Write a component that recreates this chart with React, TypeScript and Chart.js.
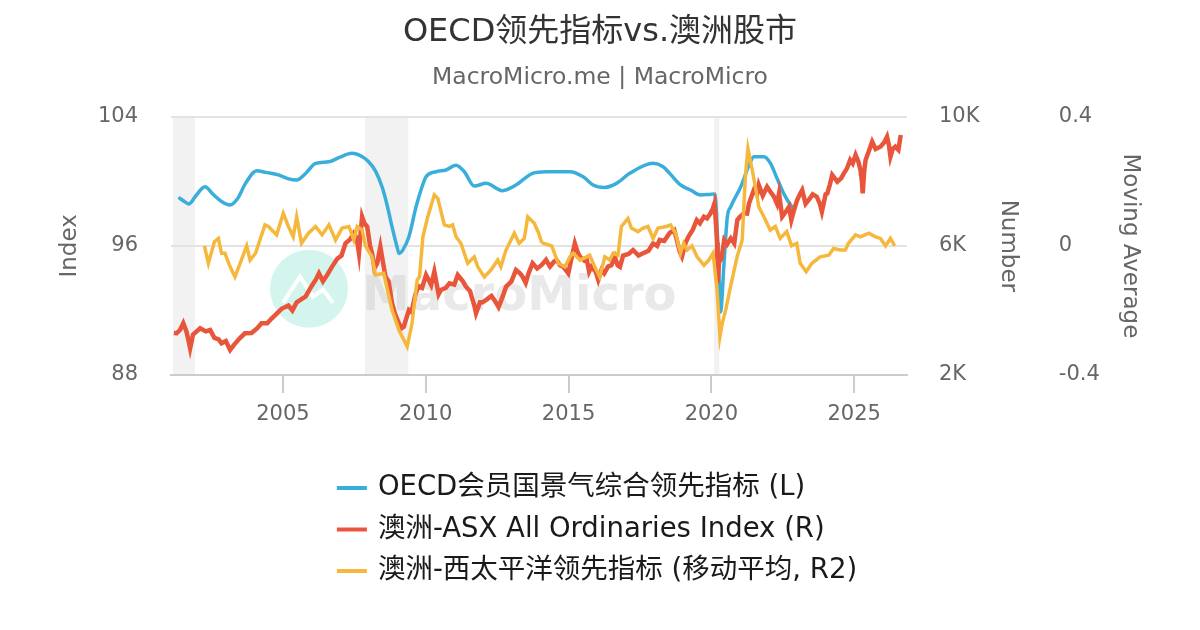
import React, { useEffect, useRef } from 'react';
import { Chart, registerables } from 'chart.js';
Chart.register(...registerables);

const FONT = "'DejaVu Sans', 'Noto Sans CJK SC', sans-serif";

const titleText = 'OECD领先指标vs.澳洲股市';
const subtitleText = 'MacroMicro.me | MacroMicro';
const seriesLabels = [
  'OECD会员国景气综合领先指标 (L)',
  '澳洲-ASX All Ordinaries Index (R)',
  '澳洲-西太平洋领先指标 (移动平均, R2)',
];
const seriesColors = ['#3aaedb', '#e8553b', '#f5b83d'];
const axisTitles = ['Index', 'Number', 'Moving Average'];

const xTicks = [2005, 2010, 2015, 2020, 2025];
const leftTicks = [88, 96, 104];
const numberTicks = [2000, 6000, 10000];
const maTicks = [-0.4, 0, 0.4];

const recessionStart = [2001.15, 2007.87, 2020.09];
const recessionEnd = [2001.92, 2009.39, 2020.28];

// OECD CLI (left axis)
const cliYears = [
  2001.34, 2001.55, 2001.71, 2001.95, 2002.27, 2002.55, 2002.85, 2003.15, 2003.4, 2003.7,
  2004.08, 2004.4, 2004.84, 2005.2, 2005.48, 2005.8, 2006.14, 2006.61, 2007.0, 2007.42,
  2007.75, 2008.0, 2008.25, 2008.47, 2008.65, 2008.82, 2009.0, 2009.06, 2009.2, 2009.41,
  2009.66, 2009.87, 2010.01, 2010.36, 2010.71, 2011.06, 2011.35, 2011.7, 2012.11, 2012.69,
  2013.16, 2013.74, 2014.21, 2015.05, 2015.51, 2015.86, 2016.27, 2016.68, 2017.14, 2017.96,
  2018.31, 2018.54, 2018.92, 2019.27, 2019.62, 2020.0, 2020.09, 2020.15, 2020.26, 2020.32,
  2020.45, 2020.56, 2020.68, 2021.03, 2021.32, 2021.49, 2021.84, 2022.07, 2022.3, 2022.53,
  2022.82, 2022.95,
];
const cliValues = [
  99.0, 98.75, 98.6, 99.1, 99.66, 99.2, 98.75, 98.53, 98.9, 99.9,
  100.65, 100.55, 100.4, 100.15, 100.08, 100.5, 101.11, 101.21, 101.5, 101.73,
  101.55, 101.21, 100.6, 99.66, 98.5, 97.18, 95.9, 95.53, 95.75, 96.56,
  98.42, 99.66, 100.28, 100.59, 100.7, 101.0, 100.59, 99.7, 99.87, 99.42,
  99.77, 100.49, 100.59, 100.59, 100.28, 99.77, 99.62, 99.87, 100.49, 101.11,
  100.9, 100.49, 99.77, 99.46, 99.15, 99.2, 99.21, 98.84, 94.5, 91.9,
  95.12, 97.8, 98.42, 99.66, 101.0, 101.52, 101.52, 101.11, 100.18, 99.25,
  98.42, 98.2,
];

// ASX All Ordinaries (right axis, Number)
const asxYears = [
  2001.18, 2001.28, 2001.4, 2001.51, 2001.62, 2001.71, 2001.75, 2001.85, 2002.1, 2002.3,
  2002.45, 2002.6, 2002.75, 2002.85, 2003.0, 2003.15, 2003.3, 2003.5, 2003.67, 2003.9,
  2004.1, 2004.25, 2004.45, 2004.6, 2004.72, 2004.95, 2005.19, 2005.33, 2005.48, 2005.65,
  2005.79, 2006.0, 2006.15, 2006.26, 2006.4, 2006.55, 2006.72, 2006.9, 2007.05, 2007.19,
  2007.35, 2007.48, 2007.58, 2007.66, 2007.72, 2007.77, 2007.85, 2007.95, 2008.05, 2008.12,
  2008.2, 2008.3, 2008.41, 2008.5, 2008.59, 2008.7, 2008.82, 2008.92, 2009.06, 2009.15,
  2009.23, 2009.3, 2009.41, 2009.5, 2009.64, 2009.75, 2009.87, 2010.01, 2010.19, 2010.3,
  2010.45, 2010.53, 2010.7, 2010.83, 2011.0, 2011.12, 2011.3, 2011.41, 2011.55, 2011.64,
  2011.7, 2011.76, 2011.9, 2011.99, 2012.15, 2012.3, 2012.4, 2012.55, 2012.7, 2012.81,
  2013.0, 2013.16, 2013.3, 2013.39, 2013.5, 2013.6, 2013.74, 2013.9, 2014.05, 2014.21,
  2014.35, 2014.48, 2014.58, 2014.7, 2014.81, 2014.99, 2015.1, 2015.22, 2015.32, 2015.4,
  2015.55, 2015.63, 2015.72, 2015.8, 2015.95, 2016.04, 2016.15, 2016.25, 2016.38, 2016.5,
  2016.62, 2016.72, 2016.8, 2016.91, 2017.1, 2017.26, 2017.45, 2017.61, 2017.8, 2017.96,
  2018.1, 2018.19, 2018.35, 2018.54, 2018.7, 2018.79, 2018.9, 2018.97, 2019.1, 2019.2,
  2019.35, 2019.49, 2019.6, 2019.74, 2019.85, 2019.97, 2020.05, 2020.11, 2020.16, 2020.2,
  2020.22, 2020.27, 2020.35, 2020.45, 2020.55, 2020.68, 2020.8, 2020.91, 2021.0, 2021.14,
  2021.25, 2021.32, 2021.49, 2021.6, 2021.66, 2021.8, 2021.95, 2022.05, 2022.19, 2022.3,
  2022.37, 2022.48, 2022.6, 2022.72, 2022.8, 2022.89, 2023.0, 2023.1, 2023.18, 2023.3,
  2023.41, 2023.55, 2023.69, 2023.8, 2023.87, 2024.0, 2024.06, 2024.15, 2024.23, 2024.41,
  2024.55, 2024.64, 2024.75, 2024.86, 2024.95, 2025.05, 2025.15, 2025.22, 2025.27, 2025.3,
  2025.35, 2025.4, 2025.5, 2025.63, 2025.75, 2025.92, 2026.05, 2026.15, 2026.22, 2026.27,
  2026.35, 2026.44, 2026.55, 2026.63,
];
const asxValues = [
  3300, 3292, 3400, 3602, 3350, 3000, 2827, 3250, 3447, 3350,
  3394, 3150, 3100, 2982, 3050, 2775, 2950, 3150, 3292, 3300,
  3450, 3602, 3600, 3750, 3850, 4050, 4150, 4000, 4250, 4350,
  4426, 4750, 4950, 5150, 4900, 5100, 5356, 5600, 5700, 6079,
  6200, 6390, 6250, 5770, 6400, 6903, 6700, 6593, 6000, 5770,
  5300, 5460, 5974, 5500, 5045, 4900, 4221, 3900, 3602, 3450,
  3496, 3700, 4014, 3950, 4500, 4750, 4700, 5098, 4788, 5200,
  4500, 4633, 4700, 4840, 4800, 5098, 4900, 4735, 4600, 4324,
  4150, 3911, 4250, 4250, 4350, 4450, 4324, 4100, 4450, 4735,
  4900, 5253, 5150, 5045, 4850, 5150, 5460, 5300, 5400, 5564,
  5356, 5500, 5564, 5400, 5356, 5150, 5600, 6079, 5800, 5665,
  5550, 5614, 5200, 5356, 5200, 4943, 5253, 5150, 5356, 5400,
  5665, 5400, 5350, 5700, 5750, 5872, 5700, 5770, 5850, 6079,
  6000, 6182, 6150, 6400, 6491, 6182, 5800, 5665, 6100, 6284,
  6500, 6801, 6700, 6903, 6850, 7009, 7150, 7318, 6700, 6100,
  4850, 5500, 5600, 6182, 6050, 6234, 6079, 6801, 6900, 7009,
  7000, 7318, 7729, 7600, 7885, 7550, 7832, 7700, 7522, 7300,
  7626, 6903, 7050, 7213, 6801, 7100, 7410, 7600, 7729, 7300,
  7420, 7600, 7522, 7300, 7058, 7600, 7626, 7900, 8195, 7987,
  8100, 8247, 8400, 8659, 8550, 8814, 8600, 8349, 8000, 7626,
  8300, 8659, 8900, 9226, 9000, 9071, 9200, 9381, 9100, 8761,
  9000, 9071, 8969, 9433,
];

// Westpac leading index, moving average (R2)
const maYears = [
  2002.25, 2002.39, 2002.6, 2002.74, 2002.85, 2002.97, 2003.15, 2003.32, 2003.5, 2003.73,
  2003.85, 2004.04, 2004.37, 2004.49, 2004.78, 2005.01, 2005.19, 2005.36, 2005.48, 2005.65,
  2005.9, 2006.14, 2006.37, 2006.61, 2006.84, 2007.07, 2007.31, 2007.48, 2007.6, 2007.77,
  2007.89, 2008.12, 2008.24, 2008.53, 2008.71, 2008.82, 2009.06, 2009.35, 2009.52, 2009.7,
  2009.78, 2009.9, 2010.07, 2010.3, 2010.42, 2010.65, 2010.83, 2010.94, 2011.06, 2011.23,
  2011.47, 2011.7, 2011.82, 2012.05, 2012.28, 2012.52, 2012.63, 2012.81, 2013.1, 2013.27,
  2013.45, 2013.57, 2013.8, 2013.95, 2014.05, 2014.11, 2014.41, 2014.64, 2014.87, 2015.05,
  2015.16, 2015.4, 2015.63, 2015.74, 2015.92, 2016.09, 2016.27, 2016.44, 2016.56, 2016.73,
  2016.85, 2017.08, 2017.2, 2017.43, 2017.61, 2017.78, 2017.96, 2018.13, 2018.43, 2018.57,
  2018.75, 2018.92, 2019.03, 2019.15, 2019.32, 2019.5, 2019.74, 2019.91, 2020.06, 2020.2,
  2020.3, 2020.38, 2020.5, 2020.67, 2020.9, 2021.08, 2021.19, 2021.28, 2021.42, 2021.54,
  2021.66, 2021.84, 2022.06, 2022.24, 2022.41, 2022.64, 2022.81, 2022.99, 2023.11, 2023.32,
  2023.52, 2023.81, 2024.11, 2024.28, 2024.51, 2024.69, 2024.8, 2025.05, 2025.22, 2025.51,
  2025.75, 2025.92, 2026.1, 2026.27, 2026.42,
];
const maValues = [
  0.0, -0.054, 0.013, 0.023, -0.023, -0.023, -0.065, -0.096, -0.054, 0.0,
  -0.044, -0.023, 0.065, 0.06, 0.034, 0.101, 0.06, 0.028, 0.09, 0.008,
  0.04, 0.06, 0.034, 0.065, 0.018, 0.055, 0.06, 0.018, 0.06, 0.05,
  0.0, -0.034, -0.09, -0.085, -0.157, -0.199, -0.261, -0.312, -0.24, -0.106,
  -0.096, 0.028, 0.09, 0.158, 0.147, 0.065, 0.06, 0.065, 0.028, 0.008,
  -0.054, -0.034, -0.065, -0.096, -0.075, -0.044, -0.065, -0.013, 0.039, 0.008,
  0.023, 0.09, 0.07, 0.04, 0.013, 0.008, 0.0, -0.054, -0.065, -0.034,
  -0.023, -0.044, -0.034, -0.029, -0.065, -0.096, -0.034, -0.044, -0.023, -0.029,
  0.06, 0.085, 0.055, 0.044, 0.055, 0.06, 0.023, 0.055, 0.06, 0.065,
  0.039, -0.023, 0.008, -0.013, 0.0, -0.034, -0.06, -0.044, -0.023, -0.137,
  -0.281, -0.24, -0.199, -0.127, -0.034, 0.018, 0.214, 0.302, 0.24, 0.183,
  0.121, 0.09, 0.049, 0.06, 0.023, 0.044, 0.0, 0.008, -0.054, -0.08,
  -0.054, -0.034, -0.029, -0.008, -0.013, -0.013, 0.008, 0.034, 0.028, 0.039,
  0.028, 0.023, 0.0, 0.023, 0.0,
];

const xMin = 2001.08;
const xMax = 2026.85;

const toPoints = (xs: number[], ys: number[]) => xs.map((x, i) => ({ x, y: ys[i] }));

const bandsPlugin = {
  id: 'bands',
  beforeDraw(chart: any) {
    const { ctx, chartArea: ca, scales } = chart;
    const xs = scales.x;
    ctx.save();
    ctx.fillStyle = '#f2f2f2';
    recessionStart.forEach((s, i) => {
      const x0 = xs.getPixelForValue(s);
      const x1 = xs.getPixelForValue(recessionEnd[i]);
      ctx.fillRect(x0, ca.top, x1 - x0, ca.bottom - ca.top);
    });
    ctx.restore();
  },
};

const watermarkPlugin = {
  id: 'watermark',
  beforeDatasetsDraw(chart: any) {
    const { ctx, chartArea: ca } = chart;
    const cx = ca.left + 138;
    const cy = ca.top + 172;
    ctx.save();
    ctx.fillStyle = '#d4f5ee';
    ctx.beginPath();
    ctx.arc(cx, cy, 39, 0, Math.PI * 2);
    ctx.fill();
    ctx.strokeStyle = '#ffffff';
    ctx.lineWidth = 4;
    ctx.lineJoin = 'miter';
    ctx.beginPath();
    ctx.moveTo(cx - 26, cy + 14);
    ctx.lineTo(cx - 9, cy - 12);
    ctx.lineTo(cx + 4, cy + 8);
    ctx.lineTo(cx + 14, cy + 1);
    ctx.lineTo(cx + 24, cy + 14);
    ctx.stroke();
    ctx.font = `bold 48px ${FONT}`;
    ctx.fillStyle = 'rgba(200,200,200,0.4)';
    ctx.textBaseline = 'alphabetic';
    ctx.textAlign = 'left';
    ctx.fillText('MacroMicro', cx + 53, cy + 21);
    ctx.restore();
  },
};

const legendPlugin = {
  id: 'customLegend',
  afterDraw(chart: any) {
    const { ctx } = chart;
    const xs = chart.scales.x;
    ctx.save();
    ctx.font = `27.5px ${FONT}`;
    const swatch = 30;
    const gap = 11;
    const maxW = Math.max(...seriesLabels.map((t) => ctx.measureText(t).width));
    const total = swatch + gap + maxW;
    const left = chart.width / 2 - total / 2 - 3;
    const top = xs.bottom + 53;
    seriesLabels.forEach((label, i) => {
      const y = top + i * 41.5;
      ctx.strokeStyle = seriesColors[i];
      ctx.lineWidth = 4;
      ctx.beginPath();
      ctx.moveTo(left, y);
      ctx.lineTo(left + swatch, y);
      ctx.stroke();
      ctx.fillStyle = '#1a1a1a';
      ctx.textBaseline = 'middle';
      ctx.textAlign = 'left';
      ctx.fillText(label, left + swatch + gap, y);
    });
    ctx.restore();
  },
};

export default function App() {
  const ref = useRef<HTMLCanvasElement>(null);
  useEffect(() => {
    document.body.style.margin = '0';
    const canvas = ref.current;
    if (!canvas) return;
    const tickFont = { family: FONT, size: 21 };
    const axisTitleFont = { family: FONT, size: 23 };
    const chart = new Chart(canvas, {
      type: 'line',
      data: {
        datasets: [
          {
            label: seriesLabels[0],
            data: toPoints(cliYears, cliValues),
            borderColor: seriesColors[0],
            backgroundColor: seriesColors[0],
            borderWidth: 3.5,
            pointRadius: 0,
            cubicInterpolationMode: 'monotone',
            yAxisID: 'y',
            order: 3,
          },
          {
            label: seriesLabels[1],
            data: toPoints(asxYears, asxValues),
            borderColor: seriesColors[1],
            backgroundColor: seriesColors[1],
            borderWidth: 4.5,
            pointRadius: 0,
            tension: 0,
            yAxisID: 'y2',
            order: 2,
          },
          {
            label: seriesLabels[2],
            data: toPoints(maYears, maValues),
            borderColor: seriesColors[2],
            backgroundColor: seriesColors[2],
            borderWidth: 3.5,
            pointRadius: 0,
            tension: 0,
            yAxisID: 'y3',
            order: 1,
          },
        ],
      },
      options: {
        responsive: false,
        animation: false,
        layout: { padding: { left: 56.2, right: 56.2, top: 13.8, bottom: 195 } },
        plugins: {
          legend: { display: false },
          tooltip: { enabled: false },
          title: {
            display: true,
            text: titleText,
            color: '#333333',
            font: { family: FONT, size: 32, weight: 'normal' },
            padding: { top: 0, bottom: 5.6 },
          },
          subtitle: {
            display: true,
            text: subtitleText,
            color: '#666666',
            font: { family: FONT, size: 23.5, weight: 'normal' },
            padding: { top: 6, bottom: 24.7 },
          },
        },
        scales: {
          x: {
            type: 'linear',
            position: 'bottom',
            min: xMin,
            max: xMax,
            afterBuildTicks: (s: any) => {
              s.ticks = xTicks.map((v) => ({ value: v }));
            },
            afterFit: (s: any) => {
              s.height = 60;
            },
            grid: {
              display: true,
              drawOnChartArea: false,
              drawTicks: true,
              tickLength: 18,
              color: '#cccccc',
              lineWidth: 2,
            },
            border: { display: true, color: '#cccccc', width: 2 },
            ticks: {
              font: tickFont,
              color: '#666666',
              padding: 9,
              maxRotation: 0,
              autoSkip: false,
              callback: (v: any) => String(v),
            },
          },
          y: {
            type: 'linear',
            position: 'left',
            min: 88,
            max: 104,
            afterBuildTicks: (s: any) => {
              s.ticks = leftTicks.map((v) => ({ value: v }));
            },
            afterFit: (s: any) => {
              s.width = 114.8;
            },
            grid: { color: '#e3e3e3', lineWidth: 2, drawTicks: false },
            border: { display: false },
            ticks: { font: tickFont, color: '#666666', padding: 33 },
            title: {
              display: true,
              text: axisTitles[0],
              color: '#666666',
              font: axisTitleFont,
              padding: 0,
            },
          },
          y2: {
            type: 'linear',
            position: 'right',
            weight: 0,
            min: 2000,
            max: 10000,
            afterBuildTicks: (s: any) => {
              s.ticks = numberTicks.map((v) => ({ value: v }));
            },
            afterFit: (s: any) => {
              s.width = 114.8;
            },
            grid: { drawOnChartArea: false, drawTicks: false },
            border: { display: false },
            ticks: {
              font: tickFont,
              color: '#666666',
              padding: 32,
              callback: (v: any) => `${Number(v) / 1000}K`,
            },
            title: {
              display: true,
              text: axisTitles[1],
              color: '#666666',
              font: axisTitleFont,
              padding: 0,
            },
          },
          y3: {
            type: 'linear',
            position: 'right',
            weight: 1,
            min: -0.4,
            max: 0.4,
            afterBuildTicks: (s: any) => {
              s.ticks = maTicks.map((v) => ({ value: v }));
            },
            afterFit: (s: any) => {
              s.width = 122;
            },
            grid: { drawOnChartArea: false, drawTicks: false },
            border: { display: false },
            ticks: {
              font: tickFont,
              color: '#666666',
              padding: 37,
              callback: (v: any) => (Number(v) === 0 ? '0' : Number(v).toFixed(1)),
            },
            title: {
              display: true,
              text: axisTitles[2],
              color: '#666666',
              font: axisTitleFont,
              padding: 0,
            },
          },
        },
      },
      plugins: [bandsPlugin, watermarkPlugin, legendPlugin],
    } as any);
    return () => chart.destroy();
  }, []);
  return (
    <div style={{ width: 1200, height: 630, background: '#ffffff' }}>
      <canvas ref={ref} width={1200} height={630} />
    </div>
  );
}
